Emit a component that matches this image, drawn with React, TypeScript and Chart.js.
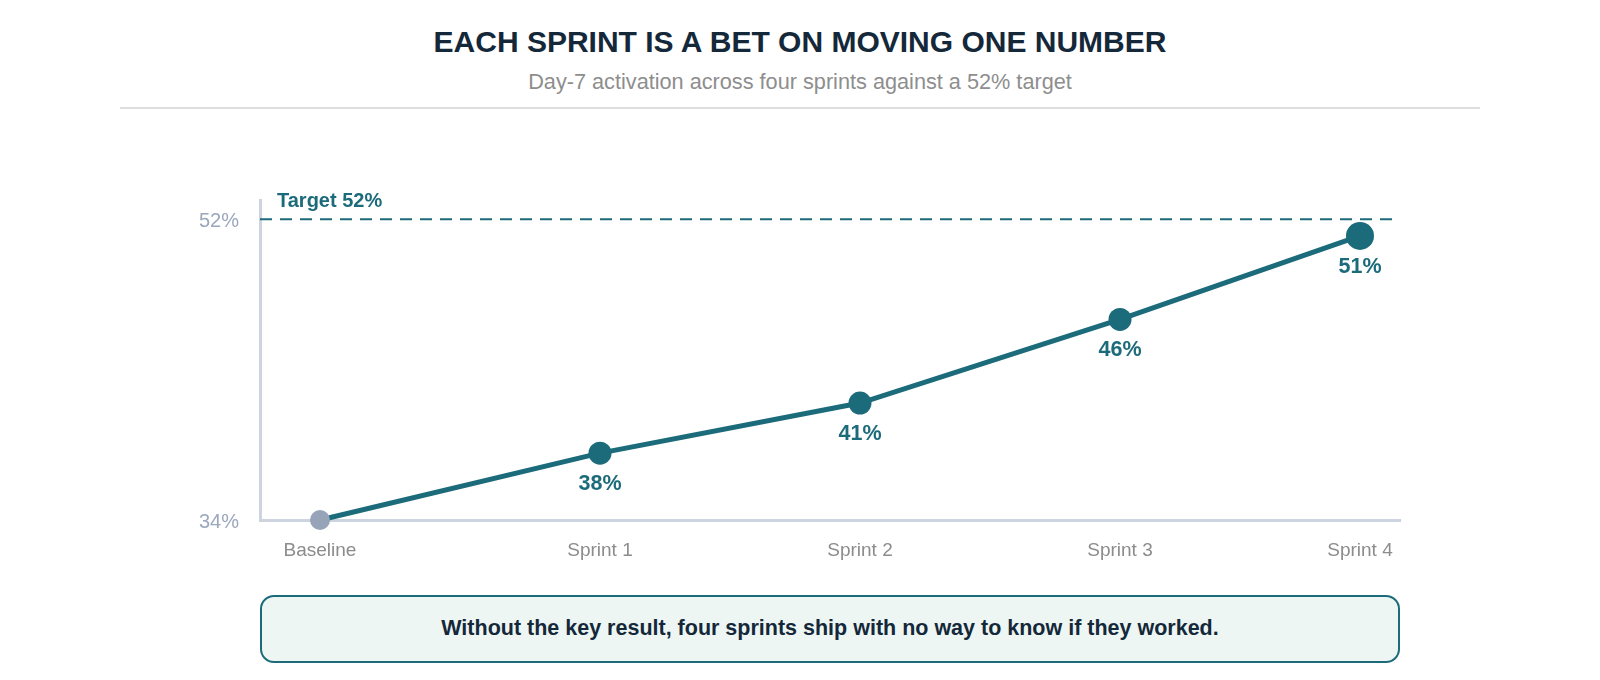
import React, { useEffect, useRef } from "react";
import { Chart, registerables } from "chart.js";

Chart.register(...registerables);

// ---- data ----
const sprintLabels = ["Baseline", "Sprint 1", "Sprint 2", "Sprint 3", "Sprint 4"];
const sprintDay = [0, 14, 27, 40, 52];
const activation = [34, 38, 41, 46, 51];
const targetValue = 52;
const yTickValues = [34, 52];
const titleText = "EACH SPRINT IS A BET ON MOVING ONE NUMBER";
const subtitleText = "Day-7 activation across four sprints against a 52% target";
const calloutText = "Without the key result, four sprints ship with no way to know if they worked.";

// ---- style ----
const FONT = "'Liberation Sans', Arial, Helvetica, sans-serif";
const TEAL = "#1c6b7b";
const NAVY = "#14283a";
const BASE_GREY = "#97a3b8";
const AXIS = "#cdd4e0";

const overlayPlugin = {
  id: "overlay",
  beforeDatasetsDraw(chart: any) {
    const { ctx, chartArea, scales } = chart;
    const y = scales.y.getPixelForValue(targetValue);
    ctx.save();
    ctx.strokeStyle = TEAL;
    ctx.lineWidth = 2;
    ctx.setLineDash([12, 8]);
    ctx.beginPath();
    ctx.moveTo(chartArea.left, y);
    ctx.lineTo(chartArea.right, y);
    ctx.stroke();
    ctx.setLineDash([]);
    ctx.fillStyle = TEAL;
    ctx.font = `bold 20px ${FONT}`;
    ctx.textAlign = "left";
    ctx.textBaseline = "alphabetic";
    ctx.fillText(`Target ${targetValue}%`, chartArea.left + 17, y - 12);
    ctx.restore();
  },
  afterDatasetsDraw(chart: any) {
    const { ctx } = chart;
    const meta = chart.getDatasetMeta(0);
    ctx.save();
    ctx.fillStyle = TEAL;
    ctx.font = `bold 21.5px ${FONT}`;
    ctx.textAlign = "center";
    ctx.textBaseline = "middle";
    meta.data.forEach((pt: any, i: number) => {
      if (i === 0) return;
      ctx.fillText(`${activation[i]}%`, pt.x, pt.y + 31);
    });
    ctx.restore();
  },
};

const radiusFor = (c: any) =>
  c.dataIndex === 0 ? 10 : c.dataIndex === sprintDay.length - 1 ? 14 : 11.5;

function LineChart() {
  const ref = useRef<HTMLCanvasElement | null>(null);
  useEffect(() => {
    if (!ref.current) return;
    const chart = new Chart(ref.current, {
      type: "line",
      data: {
        datasets: [
          {
            data: sprintDay.map((d, i) => ({ x: d, y: activation[i] })),
            borderColor: TEAL,
            borderWidth: 5,
            tension: 0,
            clip: false,
            pointRadius: radiusFor,
            pointHoverRadius: radiusFor,
            pointBackgroundColor: (c: any) => (c.dataIndex === 0 ? BASE_GREY : TEAL),
            pointBorderWidth: 0,
            fill: false,
          },
        ],
      },
      options: {
        animation: false,
        responsive: true,
        maintainAspectRatio: false,
        layout: { padding: { left: 0, right: 200, top: 80, bottom: 0 } },
        plugins: {
          legend: { display: false },
          tooltip: { enabled: false },
        },
        scales: {
          x: {
            type: "linear",
            min: -3,
            max: 54,
            grid: { display: false, drawTicks: false },
            border: { display: true, color: AXIS, width: 3 },
            afterBuildTicks: (axis: any) => {
              axis.ticks = sprintDay.map((v) => ({ value: v }));
            },
            afterFit: (axis: any) => {
              axis.height = 60;
            },
            ticks: {
              autoSkip: false,
              maxRotation: 0,
              padding: 19,
              color: "#8c8c8c",
              font: { family: FONT, size: 19 },
              callback: (_v: any, i: number) => sprintLabels[i],
            },
          },
          y: {
            type: "linear",
            min: 34,
            max: 53.15,
            grid: { display: false, drawTicks: false },
            border: { display: true, color: AXIS, width: 3 },
            afterBuildTicks: (axis: any) => {
              axis.ticks = yTickValues.map((v) => ({ value: v }));
            },
            afterFit: (axis: any) => {
              axis.width = 260;
            },
            ticks: {
              padding: 21,
              labelOffset: 2,
              color: "#9aa7bd",
              font: { family: FONT, size: 20 },
              callback: (v: any) => `${v}%`,
            },
          },
        },
      },
      plugins: [overlayPlugin],
    } as any);
    return () => chart.destroy();
  }, []);
  return (
    <div style={{ position: "absolute", left: 0, top: 120, width: 1600, height: 460 }}>
      <canvas ref={ref} />
    </div>
  );
}

export default function App() {
  return (
    <div
      style={{
        position: "absolute",
        left: 0,
        top: 0,
        width: 1600,
        height: 680,
        background: "#ffffff",
        fontFamily: FONT,
        overflow: "hidden",
      }}
    >
      <div
        style={{
          position: "absolute",
          top: 27,
          left: 0,
          width: 1600,
          textAlign: "center",
          fontSize: 30,
          lineHeight: "30px",
          fontWeight: 700,
          color: NAVY,
        }}
      >
        {titleText}
      </div>
      <div
        style={{
          position: "absolute",
          top: 71,
          left: 0,
          width: 1600,
          textAlign: "center",
          fontSize: 21.7,
          lineHeight: "22px",
          color: "#8e8e8e",
        }}
      >
        {subtitleText}
      </div>
      <div
        style={{
          position: "absolute",
          top: 107,
          left: 120,
          width: 1360,
          height: 2,
          background: "#dedede",
        }}
      />
      <LineChart />
      <div
        style={{
          position: "absolute",
          top: 595,
          left: 260,
          width: 1140,
          height: 68,
          boxSizing: "border-box",
          border: `2px solid ${TEAL}`,
          borderRadius: 14,
          background: "#edf6f3",
          display: "flex",
          alignItems: "center",
          justifyContent: "center",
          fontSize: 21.5,
          lineHeight: "21.5px",
          fontWeight: 700,
          color: NAVY,
        }}
      >
        {calloutText}
      </div>
    </div>
  );
}
